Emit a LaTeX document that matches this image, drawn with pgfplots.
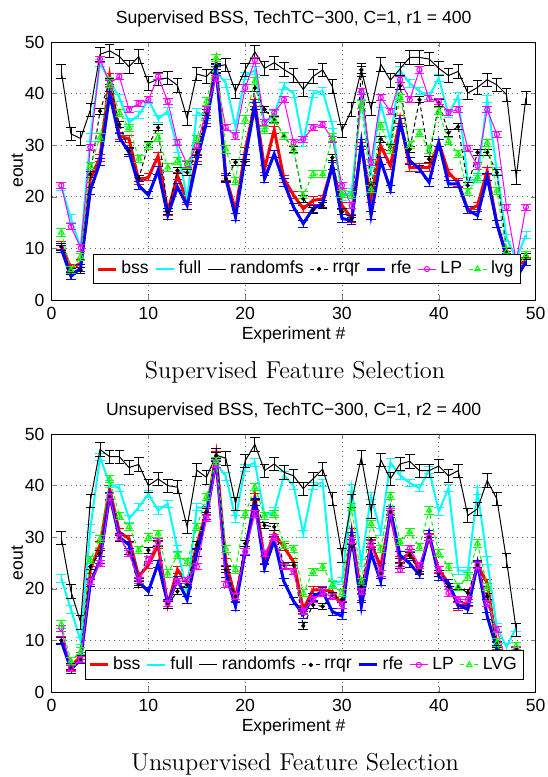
\documentclass[border=0pt]{standalone}
\usepackage{fontspec}
\setsansfont{Liberation Sans}
\usepackage{pgfplots}
\pgfplotsset{compat=1.18}
\usepackage{pgfplotstable}

\definecolor{mred}{rgb}{1,0,0}
\definecolor{mcyan}{rgb}{0,1,1}
\definecolor{mblue}{rgb}{0,0,1}
\definecolor{mmagenta}{rgb}{1,0,1}
\definecolor{mgreen}{rgb}{0,1,0}

\pgfplotstableread{
k bss full rnd rrqr rfe LP lvg
1 10.6 22.0 44.3 10.3 9.9 22.2 13.1
2 6.2 15.8 32.2 5.5 4.6 14.2 5.8
3 7.1 10.1 31.3 5.8 6.2 10.1 8.4
4 23.5 31.5 36.8 24.4 21.2 29.6 26.0
5 27.6 45.9 47.6 36.6 26.7 46.7 31.5
6 43.3 42.5 48.3 42.4 39.8 42.0 42.0
7 31.8 39.2 47.2 34.0 31.5 43.3 36.3
8 31.2 34.4 45.2 28.9 28.6 36.9 33.4
9 23.1 35.8 47.2 23.5 22.2 38.1 27.4
10 23.8 38.8 42.0 30.1 20.3 38.8 29.9
11 27.9 35.1 42.8 33.4 25.1 43.3 31.5
12 17.1 36.6 43.0 17.1 16.4 38.5 25.7
13 24.1 29.4 41.6 25.1 21.9 30.5 27.0
14 19.3 19.6 35.2 24.7 18.3 26.3 26.3
15 27.6 36.4 43.8 28.6 27.0 29.9 31.2
16 35.0 35.6 43.3 36.3 34.4 36.9 38.5
17 45.9 44.3 45.3 45.3 44.9 43.0 46.9
18 23.8 42.0 45.6 23.5 23.5 33.4 29.2
19 17.4 33.5 40.4 26.7 16.1 31.8 23.1
20 28.9 43.5 44.6 26.7 27.6 41.1 35.0
21 38.2 44.5 48.1 41.1 37.6 46.5 42.4
22 25.4 34.0 44.9 36.9 23.5 34.4 33.0
23 33.0 36.0 46.0 35.0 28.3 36.3 35.0
24 23.5 41.5 44.7 31.8 22.8 38.8 31.8
25 20.3 40.0 43.5 29.2 18.0 30.5 29.2
26 17.7 30.5 40.8 19.6 14.8 31.2 20.3
27 19.3 40.0 43.3 17.4 17.7 33.4 24.4
28 19.6 40.5 44.6 18.3 18.7 34.0 24.4
29 26.0 34.0 41.4 27.6 26.0 31.2 31.5
30 18.3 20.0 32.8 17.1 15.8 22.2 20.6
31 15.8 21.0 36.9 15.8 15.4 18.3 20.3
32 29.9 39.5 44.6 44.6 30.5 40.4 37.9
33 19.6 25.0 37.0 22.2 16.4 26.7 21.5
34 29.9 38.0 45.7 31.2 27.0 39.2 33.8
35 26.0 31.0 42.6 29.6 21.5 36.6 29.2
36 35.0 44.5 44.8 41.5 34.4 42.7 39.2
37 25.7 42.0 47.0 29.2 27.0 38.8 30.0
38 25.7 40.5 47.0 38.8 25.4 44.6 32.4
39 25.7 39.5 46.7 27.3 22.8 39.0 29.2
40 30.5 43.0 44.9 38.2 30.5 38.5 36.6
41 24.7 36.0 43.5 32.4 22.5 36.4 30.8
42 22.8 39.5 44.3 33.6 22.5 36.9 28.3
43 17.4 23.0 40.1 22.2 17.4 29.4 20.9
44 18.3 23.5 41.2 28.6 16.4 26.0 23.8
45 25.0 39.0 42.7 28.6 23.8 36.9 30.5
46 14.8 25.0 41.7 24.7 14.8 32.1 21.2
47 8.7 12.0 39.8 9.4 8.4 18.0 9.4
48 6.8 8.0 23.8 6.5 4.2 7.6 6.3
49 7.5 12.6 39.2 8.4 7.4 18.0 8.7
}\supdata

\pgfplotstableread{
k bss full rnd rrqr rfe LP lvg
1 10.0 22.0 29.9 10.0 9.9 12.4 13.1
2 4.9 16.0 19.5 4.9 4.4 4.6 6.0
3 7.0 9.9 13.5 6.3 6.3 6.3 7.9
4 23.7 31.7 37.0 24.3 21.1 21.4 25.6
5 28.5 45.5 47.0 26.9 25.6 24.9 29.7
6 39.4 40.3 45.6 38.0 38.0 37.8 41.3
7 31.0 39.5 45.6 29.7 30.0 30.0 34.2
8 29.7 33.6 43.5 27.2 28.5 26.9 32.0
9 22.4 35.8 44.1 20.8 21.4 21.7 27.5
10 24.6 38.4 40.0 27.5 19.5 25.6 30.0
11 28.5 35.2 41.3 28.8 24.9 29.1 30.7
12 16.9 36.5 40.0 16.9 17.2 17.2 23.0
13 23.7 27.7 39.7 19.5 21.7 21.4 26.5
14 21.1 19.2 32.0 20.8 17.9 21.7 25.2
15 28.5 35.8 43.0 28.5 26.9 24.3 32.0
16 35.2 35.6 41.6 34.9 34.2 33.6 37.8
17 46.0 44.3 45.9 45.8 44.8 44.2 44.8
18 25.2 41.8 45.3 23.7 23.0 20.8 27.8
19 18.2 33.6 36.5 18.5 16.6 18.5 23.7
20 27.2 43.5 44.8 28.8 27.2 27.2 34.5
21 37.8 44.5 48.0 36.8 36.8 34.5 39.7
22 25.6 34.2 42.9 32.3 24.0 26.9 34.2
23 30.7 35.0 44.2 32.0 29.4 30.0 34.5
24 28.1 42.0 42.6 24.6 21.4 24.3 28.5
25 25.2 40.0 41.9 24.6 17.6 23.3 27.8
26 16.0 30.7 39.4 12.8 15.0 15.6 19.2
27 19.8 40.0 41.3 16.9 18.5 17.9 23.3
28 19.8 40.6 43.2 16.6 19.5 19.2 24.3
29 19.5 21.0 37.4 18.8 15.6 18.5 20.8
30 16.9 21.5 26.5 17.9 14.7 16.9 19.2
31 31.0 39.5 37.0 28.1 30.3 29.4 35.8
32 18.5 25.0 45.5 20.4 16.6 19.5 21.4
33 28.8 38.0 35.0 29.4 27.0 28.8 32.6
34 24.3 31.0 45.0 23.0 21.4 23.0 27.8
35 34.5 44.5 41.3 34.9 35.2 34.9 38.0
36 25.6 42.0 44.2 24.5 26.5 23.7 29.1
37 26.9 40.5 44.7 26.5 24.9 27.8 31.0
38 23.7 39.5 42.9 23.3 22.7 24.6 28.1
39 30.0 43.0 42.9 30.0 30.7 30.0 35.2
40 23.7 35.0 43.8 23.0 22.4 23.7 26.9
41 21.1 39.5 41.9 20.4 21.1 19.2 24.3
42 16.6 23.5 42.9 20.4 16.9 17.9 20.4
43 17.2 23.5 34.2 19.2 16.0 17.9 22.4
44 24.6 39.0 35.5 24.6 24.9 24.6 28.8
45 21.1 25.5 41.0 18.5 14.7 17.2 20.4
46 8.9 12.5 37.4 9.2 8.3 12.1 9.6
47 5.4 8.7 25.5 5.1 4.1 5.7 4.4
48 8.0 12.5 12.0 8.3 7.6 8.3 8.9
}\unsdata

\newcommand{\plotfont}{\fontsize{8.8}{10}\sffamily}

\pgfplotsset{
  eoutaxis/.style={
    scale only axis, width=242pt, height=129pt,
    xmin=0, xmax=50, ymin=0, ymax=50,
    xtick={0,10,...,50}, ytick={0,10,...,50},
    grid=major, major grid style={dotted, black!60, line width=0.4pt},
    tick align=inside, major tick length=2.5pt,
    axis line style={line width=0.5pt},
    tick label style={font=\plotfont},
    /pgf/number format/assume math mode=true,
    label style={font=\plotfont},
    every axis title shift=0pt,
    title style={font=\plotfont, at={(0.5,1)}, anchor=base, yshift=9.1pt},
    xlabel={Experiment \#},
    xlabel style={at={(0.5,0)}, anchor=base, yshift=-19.5pt},
    legend columns=7,
    legend style={font=\plotfont, draw=black, line width=0.5pt, inner sep=1.3pt,
      /tikz/every even column/.append style={column sep=1pt}},
    legend image code/.code={\draw[mark repeat=2,mark phase=2,##1] plot coordinates {(0pt,0pt) (4.5pt,0pt) (9pt,0pt)};},
  },
  eb/.style={error bars/.cd, y dir=both, y fixed=#1,
    error bar style={solid}, error mark options={rotate=90, solid, mark size=2.4pt}},
  sbss/.style={mred, line width=1.5pt, mark=none, eb=0.7},
  sfull/.style={mcyan, line width=1pt, mark=none, eb=0.7},
  srnd/.style={black, line width=0.5pt, mark=none, eb=1.3},
  srrqr/.style={black, line width=0.5pt, dash pattern=on 2pt off 1.5pt, mark=*, mark size=0.8pt, mark options={solid}, eb=0.6},
  srfe/.style={mblue, line width=1.5pt, mark=none, eb=0.7},
  sLP/.style={mmagenta, line width=0.5pt, mark=o, mark size=1.3pt, eb=0.6},
  slvg/.style={mgreen, line width=0.5pt, dash pattern=on 2pt off 1.5pt, mark=triangle, mark size=1.6pt, mark options={solid}, eb=0.7},
}

\begin{document}
\begin{tikzpicture}
\useasboundingbox (0pt,0pt) rectangle (273.5pt,-388.5pt);

\begin{axis}[eoutaxis, at={(25.8pt,-150pt)}, anchor=south west,
  title={Supervised BSS, TechTC−300, C=1, r1 = 400},
  legend style={at={(0.086,0.062)}, anchor=south west}]
\addplot[sbss] table[x=k, y=bss] {\supdata};
\addplot[sfull] table[x=k, y=full] {\supdata};
\addplot[srnd] table[x=k, y=rnd] {\supdata};
\addplot[srrqr] table[x=k, y=rrqr] {\supdata};
\addplot[srfe] table[x=k, y=rfe] {\supdata};
\addplot[sLP] table[x=k, y=LP] {\supdata};
\addplot[slvg] table[x=k, y=lvg] {\supdata};
\legend{bss,full,randomfs,rrqr,rfe,LP,lvg}
\end{axis}
\node[font=\plotfont, rotate=90] at (8.6pt,-85.3pt) {eout};
\node[font=\fontsize{12.2}{14}\selectfont, anchor=base] at (147.5pt,-189.3pt) {Supervised Feature Selection};

\begin{axis}[eoutaxis, at={(25.8pt,-346pt)}, anchor=south west,
  title={Unsupervised BSS, TechTC−300, C=1, r2 = 400},
  legend style={at={(0.069,0.047)}, anchor=south west}]
\addplot[sbss] table[x=k, y=bss] {\unsdata};
\addplot[sfull] table[x=k, y=full] {\unsdata};
\addplot[srnd] table[x=k, y=rnd] {\unsdata};
\addplot[srrqr] table[x=k, y=rrqr] {\unsdata};
\addplot[srfe] table[x=k, y=rfe] {\unsdata};
\addplot[sLP] table[x=k, y=LP] {\unsdata};
\addplot[slvg] table[x=k, y=lvg] {\unsdata};
\legend{bss,full,randomfs,rrqr,rfe,LP,LVG}
\end{axis}
\node[font=\plotfont, rotate=90] at (8.6pt,-281.5pt) {eout};
\node[font=\fontsize{12.2}{14}\selectfont, anchor=base] at (147.5pt,-385.3pt) {Unsupervised Feature Selection};
\end{tikzpicture}
\end{document}
